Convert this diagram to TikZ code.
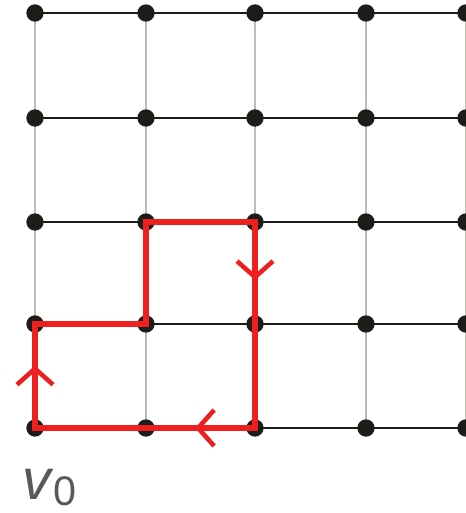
\documentclass[tikz,border=0pt]{standalone}
\usepackage{fontspec}
\setsansfont{Liberation Sans}
\usepackage{xcolor}
\definecolor{walkred}{rgb}{0.93,0.12,0.12}
\definecolor{dotblack}{rgb}{0.11,0.11,0.10}
\definecolor{vertgray}{rgb}{0.74,0.74,0.69}
\definecolor{labgray}{gray}{0.35}
\usepackage{tikz}
\usetikzlibrary{arrows.meta,decorations.markings,backgrounds}
\tikzset{
  gdot/.style={circle,fill=dotblack,inner sep=0pt,minimum size=13pt},
  hline/.style={dotblack,line width=1.5pt},
  vline/.style={vertgray,line width=1.5pt},
  walk/.style={walkred,line width=5pt},
  walkarr/.style={walk,decoration={markings,
      mark=at position #1 with {\arrow[walkred]{Straight Barb[length=12pt,width=27pt,line width=3.4pt]}}},
    postaction={decorate}},
  vlab/.style={font=\sffamily\fontsize{43}{43}\selectfont,text=labgray,inner sep=0pt},
}

\begin{document}
\begin{tikzpicture}[x=0.75pt,y=-0.75pt]
  \useasboundingbox (0,0) rectangle (465,513);
  % gitter punkte
  \foreach \x [count=\i] in {35,146,255,366,466}
    \foreach \y [count=\j] in {13,118,222,324,428}
      \node[gdot] (p\i\j) at (\x,\y) {};
  % kanten hinter den punkten
  \begin{scope}[on background layer]
    \foreach \i in {1,...,5}
      \foreach \j [count=\k from 2] in {1,...,4}
        \draw[vline] (p\i\j.center) -- (p\i\k.center);
    \foreach \j in {1,...,5}
      \foreach \i [count=\k from 2] in {1,...,4}
        \draw[hline] (p\i\j.center) -- (p\k\j.center);
  \end{scope}
  % geschlossener weg ab v_0
  \draw[walk] (p15.center) -- (p14.center) -- (p24.center) -- (p23.center)
              -- (p33.center) -- (p35.center) -- cycle;
  \draw[walkarr=0.6] (p15.center) -- (p14.center);
  \draw[walkarr=0.57] (p33.center) -- (p34.center);
  \draw[walkarr=0.55] (p35.center) -- (p25.center);
  \node[vlab,anchor=base west] (v0) at (22,499)
    {\textit{v}\raisebox{-5pt}{\fontsize{31}{31}\selectfont 0}};
\end{tikzpicture}
\end{document}
